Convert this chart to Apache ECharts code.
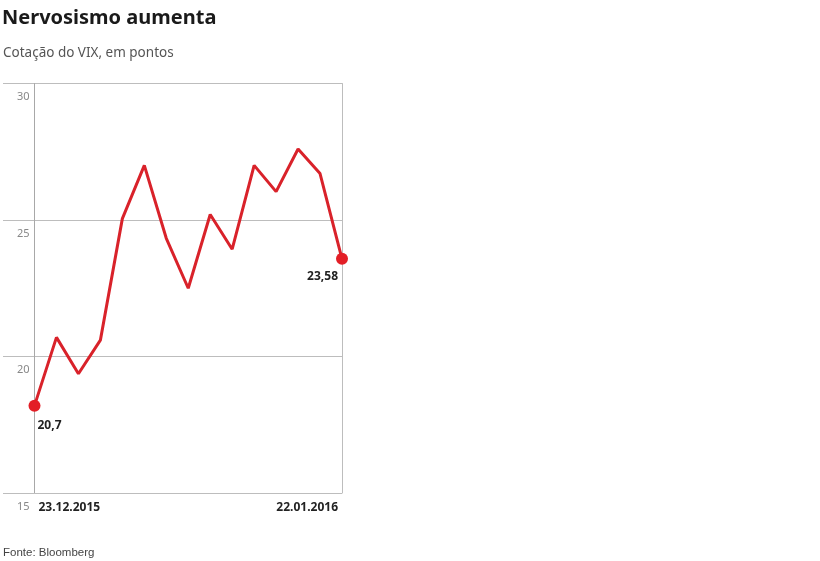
<!DOCTYPE html>
<html><head><meta charset="utf-8">
<script src="https://cdn.jsdelivr.net/npm/echarts@6/dist/echarts.min.js"></script>
<style>html,body{margin:0;padding:0;background:#fff}#c{width:820px;height:561px}</style>
</head><body><div id="c"></div>
<script>
const categories = ['23.12.2015','p2','p3','p4','p5','p6','p7','p8','p9','p10','p11','p12','p13','p14','22.01.2016'];
const values = [18.2, 20.7, 19.37, 20.6, 25.05, 27.0, 24.33, 22.5, 25.2, 23.93, 27.0, 26.04, 27.6, 26.7, 23.58];
const endLabels = ['20,7', '23,58'];
const yTicks = [15, 20, 25, 30];

const chart = echarts.init(document.getElementById('c'));
const last = values.length - 1;
const seriesData = values.map((v, i) => {
  if (i === 0) return {value: v, symbol: 'circle', symbolSize: 12,
    label: {show: true, formatter: endLabels[0], position: 'bottom', align: 'left', offset: [3, 3]}};
  if (i === last) return {value: v, symbol: 'circle', symbolSize: 12,
    label: {show: true, formatter: endLabels[1], position: 'bottom', align: 'right', offset: [-4, 1]}};
  return {value: v, symbol: 'none'};
});
const gridLine = {show: true, lineStyle: {color: '#bdbdbd', width: 1}};
chart.setOption({
  animation: false,
  title: [
    {text: 'Nervosismo aumenta', left: 2, top: 8, padding: 0,
      textStyle: {fontFamily: 'Noto Sans', fontWeight: 'bold', fontSize: 20, color: '#1a1a1a'}},
    {text: 'Cotação do VIX, em pontos', left: 3, top: 46, padding: 0,
      textStyle: {fontFamily: 'Noto Sans', fontWeight: 'normal', fontSize: 13.5, color: '#555'}},
    {text: 'Fonte: Bloomberg', left: 3, top: 547, padding: 0,
      textStyle: {fontFamily: 'Liberation Sans', fontWeight: 'normal', fontSize: 11.5, color: '#444'}}
  ],
  grid: [
    {left: 34.5, right: 478, top: 83.5, bottom: 68},
    {left: 3, right: 785.5, top: 83.5, bottom: 68}
  ],
  xAxis: [
    {type: 'category', gridIndex: 0, data: categories, boundaryGap: false,
      axisLine: {show: false}, axisTick: {show: false},
      axisLabel: {interval: 0, margin: 9,
        fontFamily: 'Noto Sans', fontWeight: 'bold', fontSize: 12, color: '#222',
        formatter: (v, i) => (i === 0 || i === last) ? v : '',
        alignMinLabel: 'left', alignMaxLabel: 'right', padding: [0, 4, 0, 4]}},
    {type: 'category', gridIndex: 1, data: ['a'], show: false}
  ],
  yAxis: [
    {type: 'value', gridIndex: 0, min: 15, max: 30, interval: 5,
      axisLine: {show: true, lineStyle: {color: '#a8a8a8'}}, axisTick: {show: false},
      splitLine: gridLine,
      axisLabel: {margin: 5, verticalAlign: 'top', padding: [8, 0, 0, 0],
        fontFamily: 'Noto Sans', fontSize: 11, color: '#888',
        formatter: v => yTicks.includes(v) ? String(v) : ''}},
    {type: 'value', gridIndex: 0, min: 15, max: 30, interval: 5, position: 'right',
      axisLine: {show: true, lineStyle: {color: '#bdbdbd'}}, axisTick: {show: false},
      axisLabel: {show: false}, splitLine: {show: false}},
    {type: 'value', gridIndex: 1, min: 15, max: 30, interval: 5,
      axisLine: {show: false}, axisTick: {show: false}, axisLabel: {show: false},
      splitLine: gridLine}
  ],
  series: [{
    type: 'line', xAxisIndex: 0, yAxisIndex: 0, data: seriesData,
    lineStyle: {color: '#d9222a', width: 3}, itemStyle: {color: '#e31e26'},
    label: {fontFamily: 'Noto Sans', fontWeight: 'bold', fontSize: 12, color: '#222'},
    z: 5
  }]
});
</script></body></html>
